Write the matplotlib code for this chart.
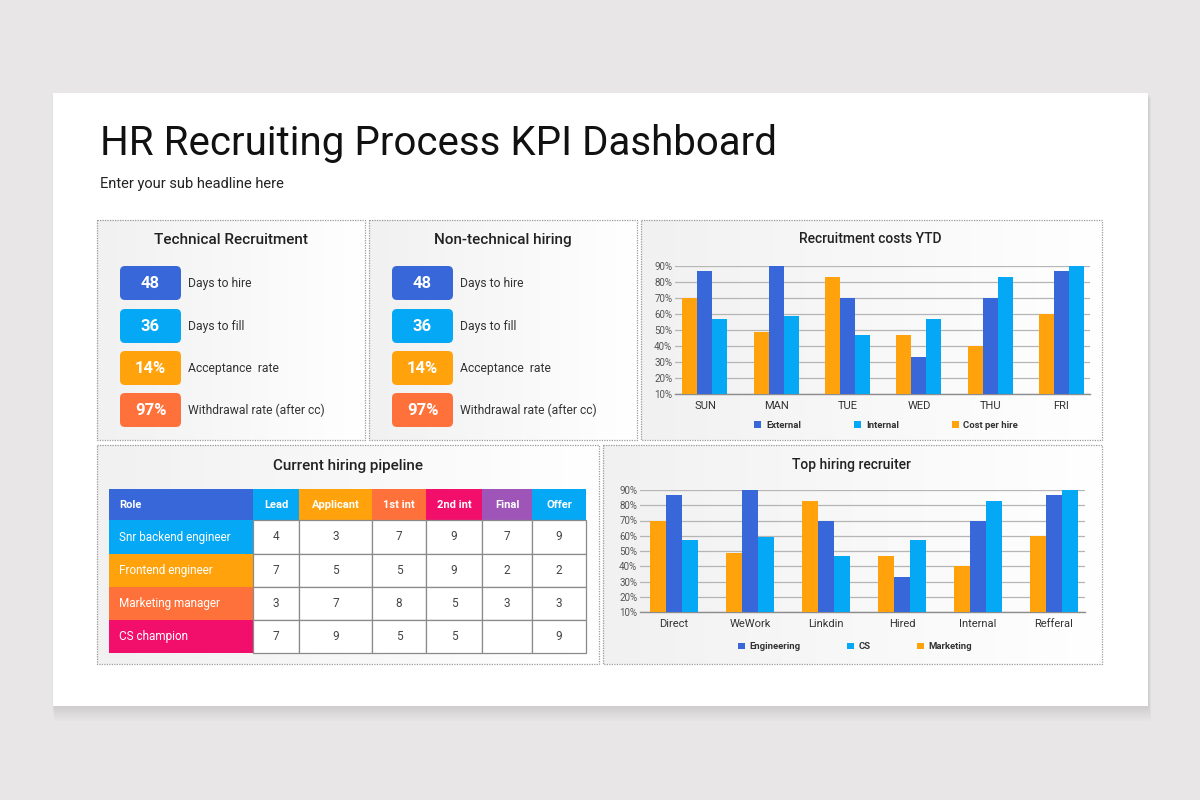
import matplotlib
matplotlib.use("Agg")
import matplotlib.pyplot as plt
from matplotlib.patches import Rectangle, FancyBboxPatch
import numpy as np

plt.rcParams['font.family'] = ['Roboto', 'DejaVu Sans']

# ---------------- data ----------------
title = "HR Recruiting Process KPI Dashboard"
subtitle = "Enter your sub headline here"

kpi_panels = ["Technical Recruitment", "Non-technical hiring"]
kpi_values = ["48", "36", "14%", "97%"]
kpi_labels = ["Days to hire", "Days to fill", "Acceptance  rate", "Withdrawal rate (after cc)"]

days = ['SUN', 'MAN', 'TUE', 'WED', 'THU', 'FRI']
external = [87, 90, 70, 33, 70, 87]
internal = [57, 59, 47, 57, 83, 90]
cost_per_hire = [70, 49, 83, 47, 40, 60]

sources = ['Direct', 'WeWork', 'Linkdin', 'Hired', 'Internal', 'Refferal']
engineering = [87, 90, 70, 33, 70, 87]
cs = [57, 59, 47, 57, 83, 90]
marketing = [70, 49, 83, 47, 40, 60]

yticks = [10, 20, 30, 40, 50, 60, 70, 80, 90]

table_header = ['Role', 'Lead', 'Applicant', '1st int', '2nd int', 'Final', 'Offer']
roles = ['Snr backend engineer', 'Frontend engineer', 'Marketing manager', 'CS champion']
pipeline = [[4, 3, 7, 9, 7, 9],
            [7, 5, 5, 9, 2, 2],
            [3, 7, 8, 5, 3, 3],
            [7, 9, 5, 5, None, 9]]

# ---------------- colours ----------------
DARK_BLUE = '#3767d9'
LIGHT_BLUE = '#05a8f4'
ORANGE = '#ffa20c'
RED_ORANGE = '#ff713a'
PINK = '#f20f6b'
PURPLE = '#9f55b8'
kpi_colors = [DARK_BLUE, LIGHT_BLUE, ORANGE, RED_ORANGE]
header_colors = [DARK_BLUE, LIGHT_BLUE, ORANGE, RED_ORANGE, PINK, PURPLE, LIGHT_BLUE]
role_colors = [LIGHT_BLUE, ORANGE, RED_ORANGE, PINK]

W, H = 1200, 800
fig = plt.figure(figsize=(12, 8), dpi=100)
fig.patch.set_facecolor('#e8e6e7')

bg = fig.add_axes([0, 0, 1, 1])
bg.set_xlim(0, W)
bg.set_ylim(H, 0)
bg.axis('off')

# soft card shadow + card
for i in range(8):
    bg.add_patch(Rectangle((53 - 1 + i * 0.3, 93 + 1 + i * 0.6), 1095 + 2, 613 + 1 + i * 1.2,
                           facecolor='#000000', alpha=0.012, edgecolor='none', zorder=0))
bg.add_patch(Rectangle((53, 93), 1095, 613, facecolor='white', edgecolor='none', zorder=1))

bg.text(100, 155, title, fontsize=29, color='#111111', ha='left', va='baseline', zorder=5)
bg.text(100, 188, subtitle, fontsize=10.5, color='#222222', ha='left', va='baseline', zorder=5)

# panels with soft gradient
grad = np.linspace(0.945, 1.0, 256).reshape(1, -1)
grad = np.repeat(grad, 2, axis=0)
grad_rgb = np.dstack([grad, grad, grad])

def panel(x0, y0, x1, y1):
    bg.imshow(grad_rgb, extent=(x0, x1, y1, y0), aspect='auto', zorder=2, interpolation='bilinear')
    bg.add_patch(Rectangle((x0, y0), x1 - x0, y1 - y0, facecolor='none', edgecolor='#9a9a9a',
                           lw=0.9, linestyle=(0, (1, 1)), zorder=3))

panel(97, 220, 365, 440)
panel(369, 220, 637, 440)
panel(641, 220, 1102, 440)
panel(97, 445, 599, 664)
panel(603, 445, 1102, 664)
bg.set_xlim(0, W)
bg.set_ylim(H, 0)

# KPI panels
kpi_px = [(97, 365), (369, 637)]
box_tops = [266, 309, 351, 393]
for (px0, px1), ptitle in zip(kpi_px, kpi_panels):
    bg.text((px0 + px1) / 2, 240, ptitle, fontsize=11, fontweight='medium', color='#222222',
            ha='center', va='center', zorder=5)
    bx = px0 + 23
    for top, val, lab, col in zip(box_tops, kpi_values, kpi_labels, kpi_colors):
        bg.add_patch(FancyBboxPatch((bx, top), 61, 34, boxstyle='round,pad=0,rounding_size=5',
                                    facecolor=col, edgecolor='none', zorder=4))
        bg.text(bx + 30.5, top + 17.5, val, fontsize=12, fontweight='bold', color='white',
                ha='center', va='center', zorder=5)
        bg.text(bx + 68, top + 17.5, lab, fontsize=8.7, color='#333333',
                ha='left', va='center', zorder=5)

# pipeline table
bg.text(348, 466, "Current hiring pipeline", fontsize=11, fontweight='medium', color='#222222',
        ha='center', va='center', zorder=5)
col_edges = [109, 253, 299, 372, 426, 482, 532, 586]
row_edges = [489, 520, 554, 587, 620, 653]
for j, (hdr, col) in enumerate(zip(table_header, header_colors)):
    x0, x1 = col_edges[j], col_edges[j + 1]
    bg.add_patch(Rectangle((x0, row_edges[0]), x1 - x0, row_edges[1] - row_edges[0],
                           facecolor=col, edgecolor='none', zorder=4))
    if j == 0:
        bg.text(x0 + 10, (row_edges[0] + row_edges[1]) / 2, hdr, fontsize=8, fontweight='bold',
                color='white', ha='left', va='center', zorder=5)
    else:
        bg.text((x0 + x1) / 2, (row_edges[0] + row_edges[1]) / 2, hdr, fontsize=8,
                fontweight='bold', color='white', ha='center', va='center', zorder=5)
for i, (role, rc, vals) in enumerate(zip(roles, role_colors, pipeline)):
    y0, y1 = row_edges[i + 1], row_edges[i + 2]
    bg.add_patch(Rectangle((col_edges[0], y0), col_edges[1] - col_edges[0], y1 - y0,
                           facecolor=rc, edgecolor='none', zorder=4))
    bg.text(col_edges[0] + 10, (y0 + y1) / 2, role, fontsize=8.5, color='white',
            ha='left', va='center', zorder=5)
    for j, v in enumerate(vals):
        x0, x1 = col_edges[j + 1], col_edges[j + 2]
        bg.add_patch(Rectangle((x0, y0), x1 - x0, y1 - y0, facecolor='white',
                               edgecolor='#8a8a8a', lw=0.9, zorder=4))
        if v is not None:
            bg.text((x0 + x1) / 2, (y0 + y1) / 2, str(v), fontsize=8.5, color='#444444',
                    ha='center', va='center', zorder=5)

# bar charts
def bar_chart(rect, cats, s_orange, s_blue, s_light, labels, title_txt, title_xy, xlim,
              legend_anchor, colspace):
    ax = fig.add_axes(rect)
    ax.set_facecolor('none')
    x = np.arange(len(cats))
    w = 0.21
    b_or = ax.bar(x - w, s_orange, w, color=ORANGE, zorder=3)
    b_bl = ax.bar(x, s_blue, w, color=DARK_BLUE, zorder=3)
    b_lb = ax.bar(x + w, s_light, w, color=LIGHT_BLUE, zorder=3)
    ax.set_ylim(10, 90)
    ax.set_xlim(*xlim)
    ax.set_yticks(yticks)
    ax.set_yticklabels([f"{t}%" for t in yticks], fontsize=7, color='#555555')
    ax.set_xticks(x)
    ax.set_xticklabels(cats, fontsize=8, color='#333333')
    ax.tick_params(axis='both', length=0)
    ax.tick_params(axis='y', pad=2)
    ax.tick_params(axis='x', pad=5)
    ax.grid(axis='y', color='#b5b5b5', lw=0.9, zorder=0)
    for s in ['top', 'right', 'left']:
        ax.spines[s].set_visible(False)
    ax.spines['bottom'].set_color('#8c8c8c')
    ax.spines['bottom'].set_linewidth(1.0)
    ax.legend([b_bl, b_lb, b_or], labels, ncol=3, loc='center', bbox_to_anchor=legend_anchor,
              frameon=False, handlelength=0.75, handleheight=0.75, handletextpad=0.5,
              columnspacing=colspace, prop={'size': 6.8, 'weight': 'bold'}, labelcolor='#333333')
    bg.text(title_xy[0], title_xy[1], title_txt, fontsize=10, fontweight='medium',
            color='#222222', ha='center', va='center', zorder=5)
    return ax

bar_chart([675 / W, 1 - 394 / H, 415 / W, 128 / H], days, cost_per_hire, external, internal,
          ['External', 'Internal', 'Cost per hire'], "Recruitment costs YTD", (870, 239),
          (-0.42, 5.4), (0.509, -0.245), 5.6)
bar_chart([640 / W, 1 - 612 / H, 445 / W, 122 / H], sources, marketing, engineering, cs,
          ['Engineering', 'CS', 'Marketing'], "Top hiring recruiter", (851, 465),
          (-0.45, 5.41), (0.483, -0.285), 4.9)

fig.savefig('out.png', dpi=100, facecolor=fig.get_facecolor())
